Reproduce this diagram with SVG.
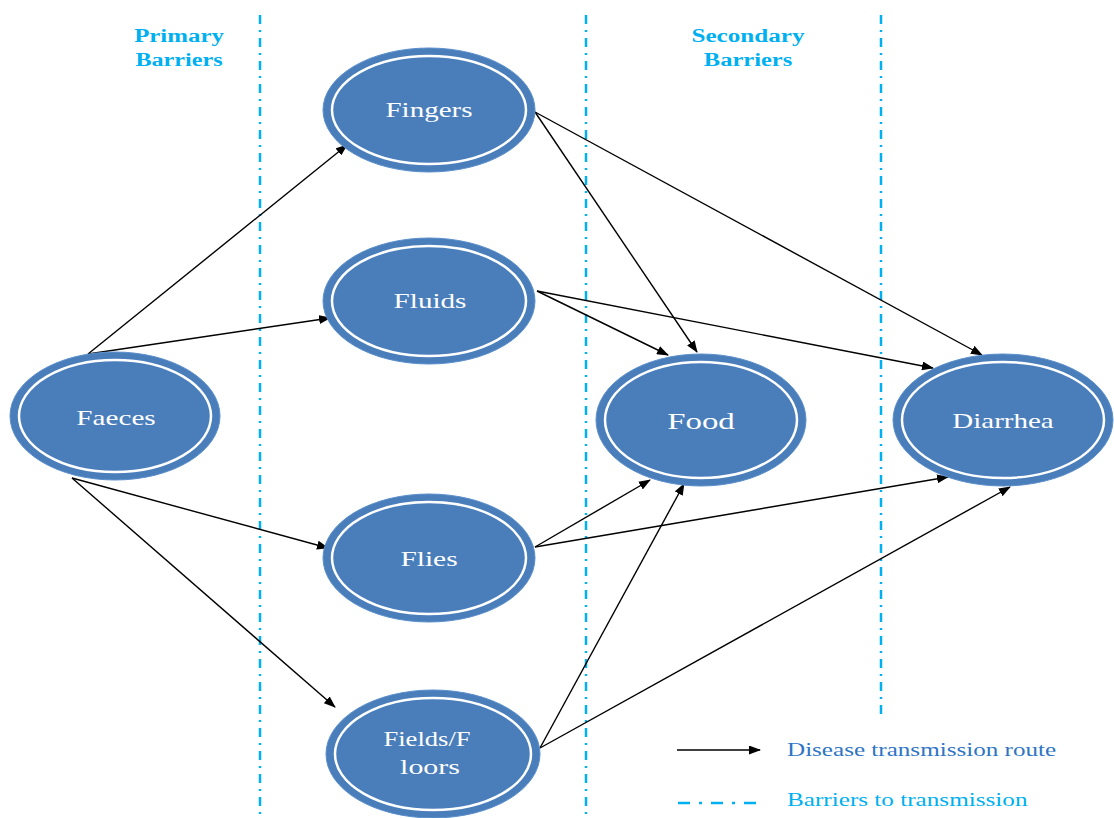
<svg xmlns="http://www.w3.org/2000/svg" width="1114" height="818" viewBox="0 0 1114 818">
<defs>
<marker id="ah" markerWidth="12" markerHeight="9" refX="11" refY="4.5" orient="auto" markerUnits="userSpaceOnUse"><path d="M0,0 L12,4.5 L0,9 Z" fill="#000"/></marker>
<style>
.barrier{stroke:#00B0F0;stroke-width:2.5;stroke-dasharray:9 6 2 6;fill:none}
.hd{font-family:"Liberation Serif",serif;font-weight:bold;font-size:19px;fill:#00B0F0;text-anchor:middle}
.outer{fill:#4A7EBB;stroke:#5B8FCC;stroke-width:1}
.inner{fill:none;stroke:#fff;stroke-width:2.5}
.lbl{font-family:"Liberation Serif",serif;font-size:21px;fill:#fff;text-anchor:middle}
.edge{stroke:#000;stroke-width:1.4;fill:none;marker-end:url(#ah)}
.lg{font-family:"Liberation Serif",serif;font-size:19px}
</style>
</defs>
<rect width="1114" height="818" fill="#fff"/>
<g id="barriers">
<line class="barrier" x1="260" y1="15" x2="260" y2="818"/>
<line class="barrier" x1="586" y1="15" x2="586" y2="818"/>
<line class="barrier" x1="881" y1="15" x2="881" y2="715"/>
<text class="hd" transform="translate(179,42) scale(1.3,1)" textLength="69" lengthAdjust="spacingAndGlyphs">Primary</text>
<text class="hd" transform="translate(179,66) scale(1.3,1)" textLength="67" lengthAdjust="spacingAndGlyphs">Barriers</text>
<text class="hd" transform="translate(748,42) scale(1.3,1)" textLength="87" lengthAdjust="spacingAndGlyphs">Secondary</text>
<text class="hd" transform="translate(748,66) scale(1.3,1)" textLength="68" lengthAdjust="spacingAndGlyphs">Barriers</text>
</g>
<g id="connectors">
<line class="edge" x1="88" y1="354" x2="347" y2="145"/>
<line class="edge" x1="88" y1="354" x2="330" y2="318"/>
<line class="edge" x1="72" y1="478" x2="328" y2="548"/>
<line class="edge" x1="72" y1="478" x2="335" y2="707"/>
<line class="edge" x1="535" y1="112" x2="697" y2="352"/>
<line class="edge" x1="535" y1="112" x2="982" y2="355"/>
<line class="edge" x1="537" y1="291" x2="668" y2="355"/>
<line class="edge" x1="537" y1="291" x2="933" y2="368"/>
<line class="edge" x1="535" y1="547" x2="650" y2="480"/>
<line class="edge" x1="535" y1="547" x2="948" y2="477"/>
<line class="edge" x1="540" y1="748" x2="684" y2="484"/>
<line class="edge" x1="540" y1="748" x2="1010" y2="487"/>
</g>
<g id="fingers">
<ellipse class="outer" cx="429" cy="110" rx="106" ry="62"/>
<ellipse class="inner" cx="429" cy="110" rx="97" ry="54"/>
<text class="lbl" transform="translate(429,117) scale(1.3,1)" textLength="67" lengthAdjust="spacingAndGlyphs">Fingers</text>
</g>
<g id="fluids">
<ellipse class="outer" cx="429" cy="301" rx="106" ry="63"/>
<ellipse class="inner" cx="429" cy="301" rx="97" ry="55"/>
<text class="lbl" transform="translate(430,308) scale(1.3,1)" textLength="56" lengthAdjust="spacingAndGlyphs">Fluids</text>
</g>
<g id="faeces">
<ellipse class="outer" cx="115" cy="416" rx="105" ry="64"/>
<ellipse class="inner" cx="115" cy="416" rx="96" ry="56"/>
<text class="lbl" transform="translate(116,425) scale(1.3,1)" textLength="61" lengthAdjust="spacingAndGlyphs">Faeces</text>
</g>
<g id="food">
<ellipse class="outer" cx="701" cy="420" rx="105" ry="66"/>
<ellipse class="inner" cx="701" cy="420" rx="96" ry="58"/>
<text class="lbl" style="font-size:24px" transform="translate(701,429) scale(1.3,1)" textLength="52" lengthAdjust="spacingAndGlyphs">Food</text>
</g>
<g id="diarrhea">
<ellipse class="outer" cx="1003" cy="420" rx="110" ry="66"/>
<ellipse class="inner" cx="1003" cy="420" rx="101" ry="58"/>
<text class="lbl" transform="translate(1003,428) scale(1.3,1)" textLength="78" lengthAdjust="spacingAndGlyphs">Diarrhea</text>
</g>
<g id="flies">
<ellipse class="outer" cx="429" cy="558" rx="106" ry="64"/>
<ellipse class="inner" cx="429" cy="558" rx="97" ry="56"/>
<text class="lbl" transform="translate(429,566) scale(1.3,1)" textLength="44" lengthAdjust="spacingAndGlyphs">Flies</text>
</g>
<g id="fields">
<ellipse class="outer" cx="433" cy="754" rx="107" ry="64"/>
<ellipse class="inner" cx="433" cy="754" rx="98" ry="56"/>
<text class="lbl" transform="translate(427,746) scale(1.3,1)" textLength="67" lengthAdjust="spacingAndGlyphs">Fields/F</text>
<text class="lbl" transform="translate(430,774) scale(1.3,1)" textLength="46" lengthAdjust="spacingAndGlyphs">loors</text>
</g>
<g id="legend">
<line class="edge" x1="677" y1="750" x2="760" y2="750"/>
<text class="lg" fill="#2E75C5" transform="translate(787,756) scale(1.3,1)" textLength="207" lengthAdjust="spacingAndGlyphs">Disease transmission route</text>
<line class="barrier" x1="678" y1="803" x2="760" y2="803" style="stroke-dasharray:12 9 3 9"/>
<text class="lg" fill="#00B0F0" transform="translate(787,806) scale(1.3,1)" textLength="185" lengthAdjust="spacingAndGlyphs">Barriers to transmission</text>
</g>
</svg>
